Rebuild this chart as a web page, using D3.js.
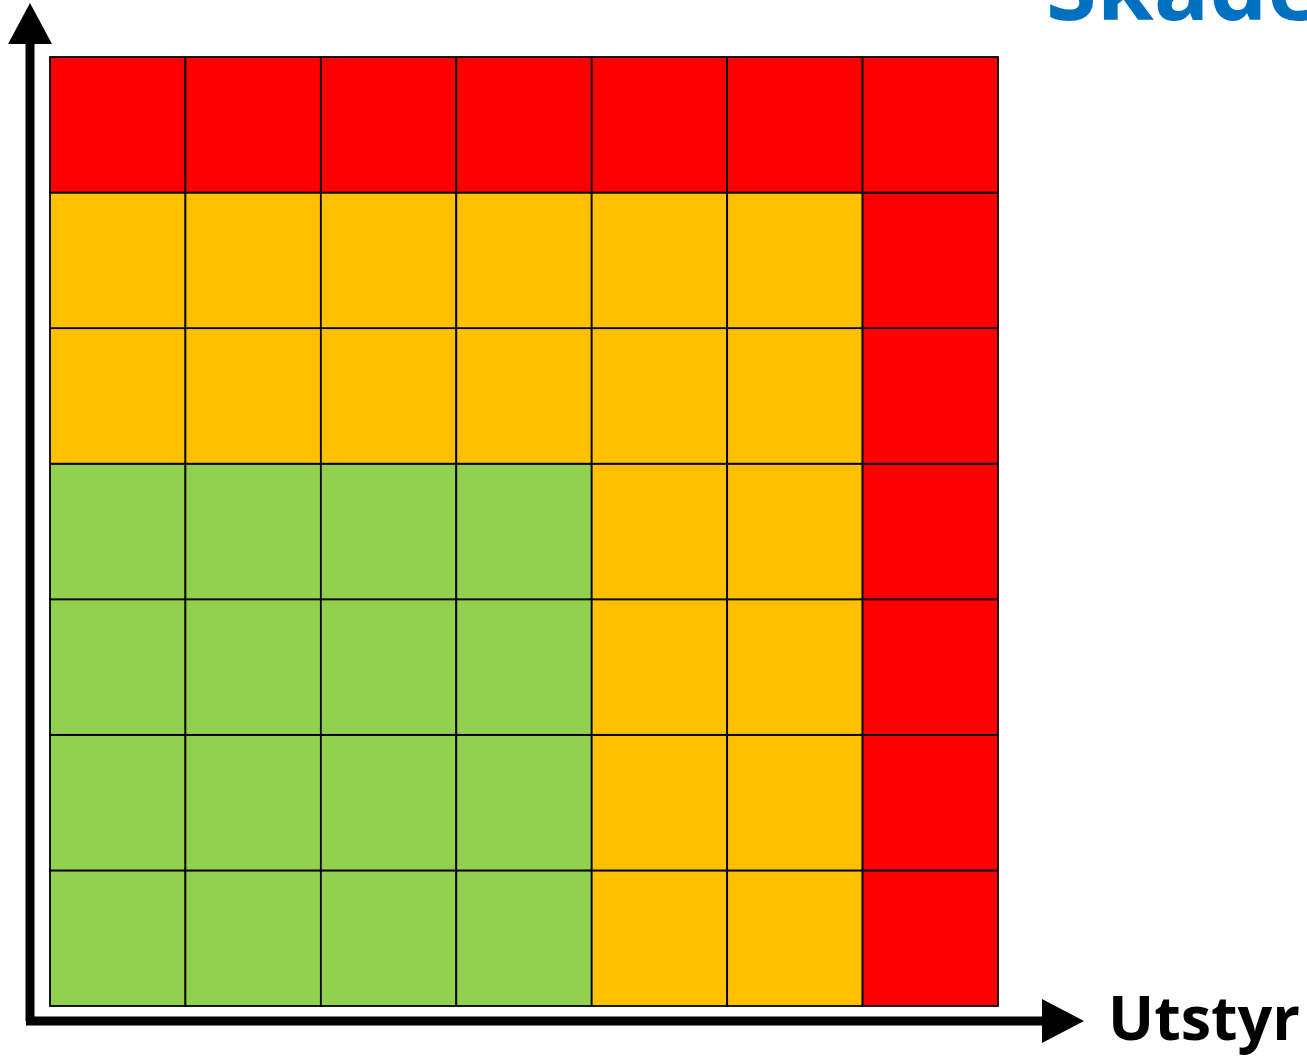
<!DOCTYPE html>
<html>
<head>
<meta charset="utf-8">
<script src="https://cdn.jsdelivr.net/npm/d3@7"></script>
<style>
  html, body { margin: 0; padding: 0; background: #fff; overflow: hidden; }
</style>
</head>
<body>
<svg id="matrix"></svg>
<script>
// Consequence (Utstyr) columns and likelihood (Skade) rows, low to high
var cols = [1, 2, 3, 4, 5, 6, 7];
var rows = [1, 2, 3, 4, 5, 6, 7];

// Risk level per row, listed from bottom row (1) to top row (7)
var levels = [
    ["lav", "lav", "lav", "lav", "middels", "middels", "hoy"],
    ["lav", "lav", "lav", "lav", "middels", "middels", "hoy"],
    ["lav", "lav", "lav", "lav", "middels", "middels", "hoy"],
    ["lav", "lav", "lav", "lav", "middels", "middels", "hoy"],
    ["middels", "middels", "middels", "middels", "middels", "middels", "hoy"],
    ["middels", "middels", "middels", "middels", "middels", "middels", "hoy"],
    ["hoy", "hoy", "hoy", "hoy", "hoy", "hoy", "hoy"]
];
var levelNames = ["lav", "middels", "hoy"];

var width = 1307, height = 1058;

var svg = d3.select("#matrix")
            .attr("width", width)
            .attr("height", height);

var x = d3.scaleBand().domain(cols).range([50, 998]);
var y = d3.scaleBand().domain(rows).range([1006, 57]);  // row 1 at the bottom
var color = d3.scaleOrdinal()
              .domain(levelNames)
              .range(["#92D050", "#FFC000", "#FF0000"]);

// flatten matrix into cells
var cells = [];
rows.forEach(function(r, i) {
    cols.forEach(function(c, j) {
        cells.push({row: r, col: c, level: levels[i][j]});
    });
});

svg.append("g")
   .selectAll("rect")
   .data(cells)
   .enter()
   .append("rect")
     .attr("x", d => x(d.col))
     .attr("y", d => y(d.row) - y.bandwidth())
     .attr("width", x.bandwidth())
     .attr("height", y.bandwidth())
     .attr("fill", d => color(d.level))
     .attr("stroke", "#000")
     .attr("stroke-width", 1.8);

// Fix y offset: band range reversed gives top-left of each band directly
svg.selectAll("rect").attr("y", d => y(d.row));

// Axis arrows
var defs = svg.append("defs");
var axisG = svg.append("g");

axisG.append("path")
     .attr("d", "M30,1021 L30,40")
     .attr("stroke", "#000")
     .attr("stroke-width", 9)
     .attr("fill", "none");
axisG.append("path")
     .attr("d", "M26,1021 L1045,1021")
     .attr("stroke", "#000")
     .attr("stroke-width", 9)
     .attr("fill", "none");

// arrow heads
axisG.append("path")
     .attr("d", "M30,3 L52,44 L8,44 Z")
     .attr("fill", "#000");
axisG.append("path")
     .attr("d", "M1084,1021 L1042,999 L1042,1043 Z")
     .attr("fill", "#000");

// Axis titles
svg.append("text")
   .attr("x", 1108)
   .attr("y", 1040)
   .attr("font-family", "'Open Sans', sans-serif")
   .attr("font-weight", "bold")
   .attr("font-size", 60)
   .attr("textLength", 192)
   .attr("lengthAdjust", "spacingAndGlyphs")
   .attr("fill", "#000")
   .text("Utstyr");

svg.append("text")
   .attr("x", 1046)
   .attr("y", 20)
   .attr("font-family", "'Open Sans', sans-serif")
   .attr("font-weight", "bold")
   .attr("font-size", 92)
   .attr("fill", "#0070C0")
   .text("Skade");
</script>
</body>
</html>
